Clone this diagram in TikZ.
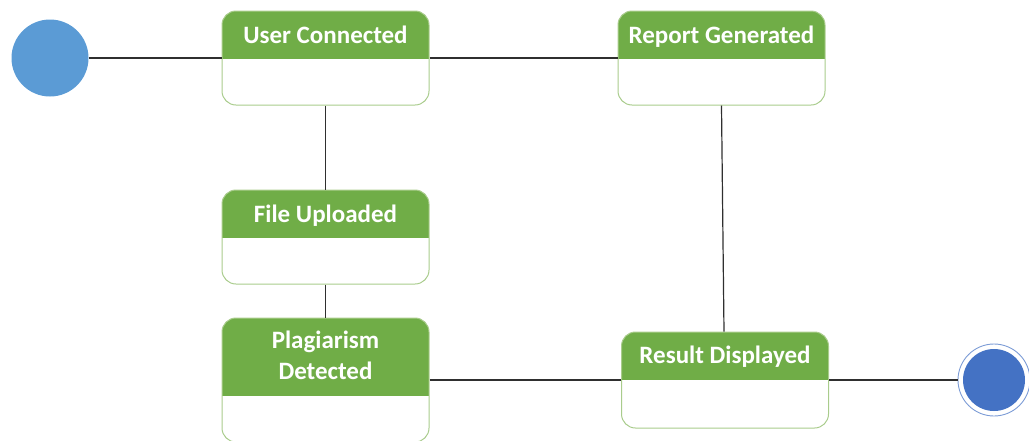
\documentclass[tikz,border=0pt]{standalone}
\usepackage{fontspec}
\setmainfont{Carlito}
\definecolor{hdrgreen}{HTML}{70AD47}
\definecolor{edgegreen}{HTML}{A9CC8C}
\definecolor{startblue}{HTML}{5B9BD5}
\definecolor{endblue}{HTML}{4472C4}
\definecolor{wire}{HTML}{2F2F2F}
\tikzset{
  statebox/.style={rectangle, rounded corners=14pt, draw=edgegreen, line width=1pt,
    fill=white, minimum width=207pt, minimum height=#1, inner sep=0pt},
  header/.style={path picture={\fill[hdrgreen, sharp corners] (path picture bounding box.north west)
    rectangle ([yshift=-#1]path picture bounding box.north east);}},
  title/.style={text=white, font=\bfseries\fontsize{25}{31}\selectfont, align=center,
    inner sep=0pt, anchor=base},
  wireline/.style={draw=wire, line width=1.2pt},
}
\begin{document}
\begin{tikzpicture}[x=1pt, y=-1pt]
\useasboundingbox (0,0) rectangle (1029,440);
% initial state
\node[circle, fill=startblue, minimum size=77pt, inner sep=0pt] (start) at (50,58) {};
% final state: ring with filled core
\node[circle, draw=endblue!70, line width=0.9pt, fill=white, minimum size=72pt, inner sep=0pt,
  path picture={\fill[endblue] (path picture bounding box.center) circle (31pt);}] (stop) at (994,380) {};
% states
\node[statebox=94pt, header=48pt] (uc) at (325.5,58) {};
\node[statebox=94pt, header=48pt] (rg) at (721.5,58) {};
\node[statebox=94pt, header=48pt] (fu) at (325.5,237) {};
\node[statebox=124pt, header=78pt] (pd) at (325.5,380) {};
\node[statebox=96pt, header=48pt] (rd) at (725,380) {};
% titles (placed by baseline; a two-line title by its last line)
\node[title] (ucT) at (325.5,43) {User Connected};
\node[title] (rgT) at (721.5,43) {Report Generated};
\node[title] (fuT) at (325.5,222) {File Uploaded};
\node[title] (pdT) at (325.5,379) {Plagiarism\\Detected};
\node[title] (rdT) at (725,363) {Result Displayed};
% transitions
\draw[wireline] (start.east) -- (uc.west);
\draw[wireline] (uc.east) -- (rg.west);
\draw[wireline] (uc.south) -- (fu.north);
\draw[wireline] (fu.south) -- (pd.north);
\draw[wireline] (rg.south) -- ([xshift=-1pt]rd.north);
\draw[wireline] (pd.east) -- (rd.west);
\draw[wireline] (rd.east) -- (stop.west);
\end{tikzpicture}
\end{document}
